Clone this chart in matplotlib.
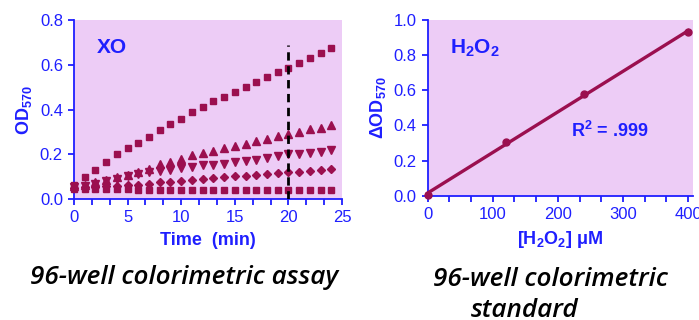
import numpy as np
import matplotlib
matplotlib.use("Agg")
import matplotlib.pyplot as plt
from matplotlib.ticker import MultipleLocator

plt.rcParams['font.family'] = ['Liberation Sans', 'DejaVu Sans']
plt.rcParams['mathtext.fontset'] = 'custom'
plt.rcParams['mathtext.rm'] = 'Liberation Sans:bold'
plt.rcParams['mathtext.bf'] = 'Liberation Sans:bold'
plt.rcParams['mathtext.it'] = 'Liberation Sans:bold'

# XO kinetics, OD570 per minute
time_min = np.arange(0, 25)
od_sq_high = [0.065, 0.10, 0.13, 0.165, 0.20, 0.23, 0.253, 0.28, 0.31, 0.335, 0.36, 0.39, 0.413,
              0.44, 0.458, 0.48, 0.503, 0.523, 0.544, 0.567, 0.587, 0.607, 0.63, 0.651, 0.677]
od_tri_up = [0.06, 0.065, 0.075, 0.085, 0.10, 0.11, 0.12, 0.135, 0.156, 0.165, 0.18, 0.196, 0.205,
             0.217, 0.229, 0.238, 0.247, 0.259, 0.27, 0.283, 0.291, 0.30, 0.312, 0.32, 0.333]
od_tri_down = [0.055, 0.06, 0.068, 0.08, 0.092, 0.103, 0.113, 0.123, 0.125, 0.131, 0.141, 0.146, 0.152,
               0.155, 0.159, 0.165, 0.17, 0.177, 0.184, 0.193, 0.20, 0.204, 0.208, 0.213, 0.222]
od_diamond = [0.05, 0.055, 0.055, 0.058, 0.06, 0.062, 0.065, 0.07, 0.075, 0.078, 0.082, 0.088, 0.092,
              0.095, 0.098, 0.102, 0.105, 0.11, 0.113, 0.117, 0.12, 0.124, 0.127, 0.131, 0.135]
od_sq_low = [0.045, 0.045, 0.044, 0.044, 0.044, 0.044, 0.043, 0.043, 0.043, 0.042, 0.042, 0.043, 0.043,
             0.043, 0.043, 0.042, 0.042, 0.043, 0.043, 0.043, 0.043, 0.043, 0.043, 0.043, 0.043]
cutoff_time = 20

# H2O2 standard curve
h2o2_um = [0, 120, 240, 400]
delta_od = [0.003, 0.305, 0.578, 0.93]

purple_bg = '#edccf6'
maroon = '#9b0f4f'
blue = '#1f1fff'

fig = plt.figure(figsize=(6.99, 3.2), dpi=100)
ax1 = fig.add_axes([74 / 699, 1 - 199.3 / 320, 268 / 699, 179.3 / 320])
ax2 = fig.add_axes([427.7 / 699, 1 - 195.7 / 320, 265.6 / 699, 175.7 / 320])


def style_axes(ax):
    ax.set_facecolor(purple_bg)
    for side in ['top', 'right']:
        ax.spines[side].set_visible(False)
    for side in ['left', 'bottom']:
        ax.spines[side].set_color(blue)
        ax.spines[side].set_linewidth(1.3)
    ax.tick_params(which='both', direction='out', colors=blue, width=1.3, labelsize=12, labelcolor=blue)
    ax.tick_params(which='major', length=4, pad=4)
    ax.tick_params(which='minor', length=4)
    ax.tick_params(axis='y', which='minor', length=0)


style_axes(ax1)
kw = dict(color=maroon, linestyle='none', clip_on=False, zorder=3)
ax1.plot(time_min, od_sq_low, marker='s', markersize=4.2, **kw)
ax1.plot(time_min, od_diamond, marker='D', markersize=3.8, **kw)
ax1.plot(time_min, od_tri_down, marker='v', markersize=5.2, **kw)
ax1.plot(time_min, od_tri_up, marker='^', markersize=5.2, **kw)
ax1.plot(time_min, od_sq_high, marker='s', markersize=4.2, **kw)
ax1.plot([cutoff_time, cutoff_time], [0, 0.69], color='black', linestyle=(0, (3, 2)), linewidth=2.0, zorder=4)
ax1.set_xlim(0, 25)
ax1.set_ylim(0, 0.8)
ax1.xaxis.set_major_locator(MultipleLocator(5))
ax1.xaxis.set_minor_locator(MultipleLocator(5 / 3))
ax1.yaxis.set_major_locator(MultipleLocator(0.2))
ax1.yaxis.set_major_formatter(plt.FuncFormatter(lambda v, p: f'{v:.1f}'))
ax1.set_xlabel('Time  (min)', color=blue, fontsize=13, fontweight='bold', labelpad=5)
ax1.set_ylabel('OD$_{570}$', color=blue, fontsize=13, fontweight='bold', labelpad=4)
ax1.text(0.086, 0.90, 'XO', transform=ax1.transAxes, color=blue, fontsize=15, fontweight='bold', va='top')

style_axes(ax2)
slope, intercept = np.polyfit(h2o2_um, delta_od, 1)
fit_x = np.array([0, 400])
ax2.plot(fit_x, slope * fit_x + intercept, color=maroon, linewidth=2.4, zorder=3, clip_on=False)
ax2.plot(h2o2_um, delta_od, marker='o', markersize=5, **kw)
ax2.set_xlim(0, 408)
ax2.set_ylim(0, 1.0)
ax2.xaxis.set_major_locator(MultipleLocator(100))
ax2.xaxis.set_minor_locator(MultipleLocator(100 / 3))
ax2.yaxis.set_major_locator(MultipleLocator(0.2))
ax2.yaxis.set_major_formatter(plt.FuncFormatter(lambda v, p: f'{v:.1f}'))
ax2.set_xlabel('[H$_2$O$_2$] \u03bcM', color=blue, fontsize=13, fontweight='bold', labelpad=5)
ax2.set_ylabel('\u0394OD$_{570}$', color=blue, fontsize=13, fontweight='bold', labelpad=4)
ax2.text(0.084, 0.90, 'H$_2$O$_2$', transform=ax2.transAxes, color=blue, fontsize=15, fontweight='bold', va='top')
ax2.text(0.54, 0.334, 'R$^2$ = .999', transform=ax2.transAxes, color=blue, fontsize=13, fontweight='bold',
         va='baseline')

title_kw = dict(family=['Open Sans', 'Lato', 'DejaVu Sans'], style='italic', fontweight='semibold', fontsize=18.8,
                color='black', ha='center', va='baseline')
fig.text(184.5 / 699, 1 - 284 / 320, '96-well colorimetric assay', **title_kw)
fig.text(550 / 699, 1 - 286 / 320, '96-well colorimetric', **title_kw)
fig.text(525 / 699, 1 - 317 / 320, 'standard', **title_kw)

fig.savefig('out.png', dpi=100)
